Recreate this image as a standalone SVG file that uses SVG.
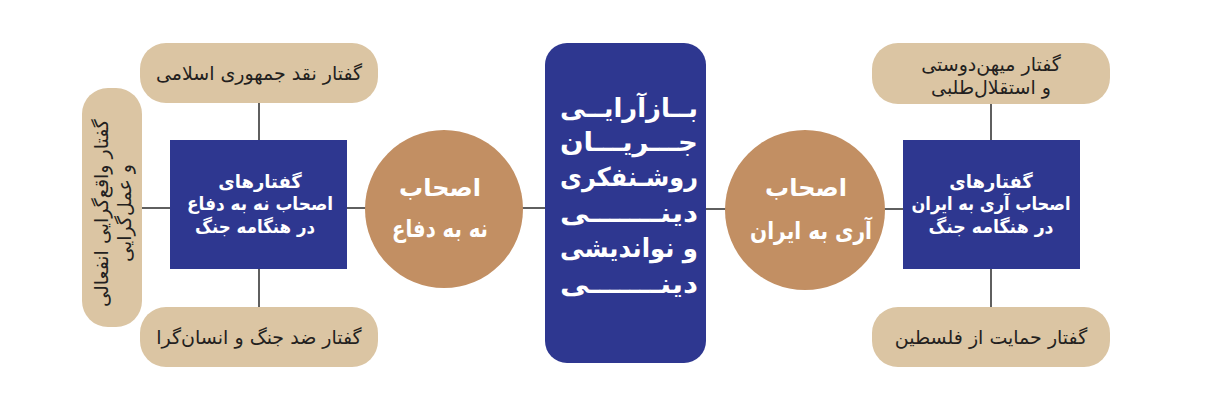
<svg xmlns="http://www.w3.org/2000/svg" width="1220" height="413" viewBox="0 0 1220 413">
<style>
.pill{fill:#DBC5A3}
.box{fill:#2E3790}
.circ{fill:#C28F63}
.ln{stroke:#2a2a2a;stroke-width:1.5;fill:none}
text{font-family:"DejaVu Sans","Noto Sans",sans-serif;text-anchor:middle}
.pt{font-size:19px;fill:#231f20}
.bt{font-size:18px;font-weight:bold;fill:#ffffff}
.ct{font-size:24px;font-weight:bold;fill:#ffffff}
.mt{font-size:26px;font-weight:bold;fill:#ffffff}
</style>
<rect width="1220" height="413" fill="#ffffff"/>
<g id="connectors">
<line class="ln" x1="259" y1="103" x2="259" y2="140"/>
<line class="ln" x1="259" y1="269" x2="259" y2="307"/>
<line class="ln" x1="142" y1="208" x2="170" y2="208"/>
<line class="ln" x1="347" y1="208" x2="366" y2="208"/>
<line class="ln" x1="522" y1="208" x2="545" y2="208"/>
<line class="ln" x1="706" y1="209" x2="726" y2="209"/>
<line class="ln" x1="884" y1="209" x2="903" y2="209"/>
<line class="ln" x1="991" y1="104" x2="991" y2="140"/>
<line class="ln" x1="991" y1="269" x2="991" y2="307"/>
</g>
<g id="left-top">
<rect class="pill" x="140" y="43" width="238" height="60" rx="26"/>
<text class="pt" x="259" y="80">گفتار نقد جمهوری اسلامی</text>
</g>
<g id="left-side">
<rect class="pill" x="82" y="88" width="60" height="239" rx="26"/>
<g transform="translate(112,213) rotate(-90)">
<text class="pt" x="0" y="-4">گفتار واقع‌گرایی انفعالی</text>
<text class="pt" x="0" y="19">و عمل‌گرایی</text>
</g>
</g>
<g id="left-bottom">
<rect class="pill" x="140" y="307" width="238" height="60" rx="26"/>
<text class="pt" x="259" y="344">گفتار ضد جنگ و انسان‌گرا</text>
</g>
<g id="left-box">
<rect class="box" x="170" y="140" width="177" height="129"/>
<text class="bt" x="260" y="188">گفتارهای</text>
<text class="bt" x="260" y="210" textLength="146" lengthAdjust="spacingAndGlyphs">اصحاب نه به دفاع</text>
<text class="bt" x="255" y="233" textLength="120" lengthAdjust="spacingAndGlyphs">در هنگامه جنگ</text>
</g>
<g id="left-circle">
<circle class="circ" cx="444" cy="209" r="79"/>
<text class="ct" x="440" y="196">اصحاب</text>
<text class="ct" x="440" y="237" textLength="96" lengthAdjust="spacingAndGlyphs">نه به دفاع</text>
</g>
<g id="center">
<rect class="box" x="545" y="43" width="161" height="320" rx="22"/>
<text class="mt" x="629" y="117" textLength="138" lengthAdjust="spacingAndGlyphs">بــازآرایــی</text>
<text class="mt" x="629" y="151" textLength="138" lengthAdjust="spacingAndGlyphs">جـــریـــان</text>
<text class="mt" x="629" y="186" textLength="138" lengthAdjust="spacingAndGlyphs">روشـنفکری</text>
<text class="mt" x="629" y="222" textLength="138" lengthAdjust="spacingAndGlyphs">دینـــــــی</text>
<text class="mt" x="629" y="257" textLength="138" lengthAdjust="spacingAndGlyphs">و نواندیشی</text>
<text class="mt" x="629" y="293" textLength="138" lengthAdjust="spacingAndGlyphs">دینـــــــی</text>
</g>
<g id="right-circle">
<circle class="circ" cx="805" cy="210" r="80"/>
<text class="ct" x="806" y="196">اصحاب</text>
<text class="ct" x="811" y="239" textLength="122" lengthAdjust="spacingAndGlyphs">آری به ایران</text>
</g>
<g id="right-box">
<rect class="box" x="903" y="140" width="177" height="129"/>
<text class="bt" x="991" y="188">گفتارهای</text>
<text class="bt" x="991" y="210" textLength="159" lengthAdjust="spacingAndGlyphs">اصحاب آری به ایران</text>
<text class="bt" x="991" y="233" textLength="125" lengthAdjust="spacingAndGlyphs">در هنگامه جنگ</text>
</g>
<g id="right-top">
<rect class="pill" x="872" y="43" width="238" height="61" rx="26"/>
<text class="pt" x="991" y="71">گفتار میهن‌دوستی</text>
<text class="pt" x="991" y="94">و استقلال‌طلبی</text>
</g>
<g id="right-bottom">
<rect class="pill" x="872" y="307" width="238" height="60" rx="26"/>
<text class="pt" x="991" y="344">گفتار حمایت از فلسطین</text>
</g>
</svg>
